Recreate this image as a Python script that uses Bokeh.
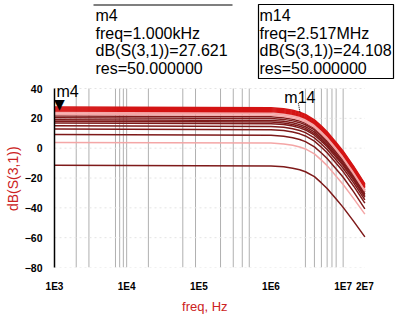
from bokeh.plotting import figure
from bokeh.models import Range1d, FixedTicker, Label, BoxAnnotation
from bokeh.embed import file_html
from bokeh.resources import INLINE

# ---------------- data ----------------
freq = [1e3, 1e6, 1.5e6, 2e6, 2.5e6, 3e6, 4e6, 5e6, 6e6, 8e6, 1e7, 1.4e7, 2e7]

curve_01 = [27.6, 27.1, 26.4, 25.4, 24.1, 22.6, 19.0, 14.8, 11.0, 3.8, -2.0, -12.2, -23.9]
curve_02 = [27.0, 26.5, 25.8, 24.8, 23.5, 22.0, 18.4, 14.2, 10.4, 3.2, -2.6, -12.8, -24.5]
curve_03 = [26.3, 25.8, 25.1, 24.1, 22.8, 21.3, 17.7, 13.5, 9.7, 2.5, -3.3, -13.5, -25.2]
curve_04 = [25.6, 25.1, 24.4, 23.4, 22.1, 20.6, 17.0, 12.8, 9.0, 1.8, -4.0, -14.2, -25.9]
curve_05 = [25.0, 24.5, 23.8, 22.8, 21.5, 20.0, 16.4, 12.2, 8.4, 1.2, -4.6, -14.8, -26.5]
curve_06 = [24.3, 23.8, 23.1, 22.1, 20.8, 19.3, 15.7, 11.5, 7.7, 0.5, -5.3, -15.5, -27.2]
curve_07 = [23.5, 23.0, 22.3, 21.3, 20.0, 18.5, 14.9, 10.7, 6.9, -0.3, -6.1, -16.3, -28.0]
curve_08 = [22.5, 22.0, 21.3, 20.3, 19.0, 17.5, 13.9, 9.7, 5.9, -1.3, -7.1, -17.3, -29.0]
curve_09 = [21.5, 21.0, 20.4, 19.4, 18.2, 16.8, 13.3, 9.2, 5.5, -1.5, -7.1, -16.9, -28.3]
curve_10 = [20.4, 19.9, 19.3, 18.3, 17.1, 15.7, 12.2, 8.1, 4.4, -2.6, -8.2, -18.0, -29.4]
curve_11 = [19.1, 18.6, 18.0, 17.0, 15.8, 14.4, 10.9, 6.8, 3.1, -3.9, -9.5, -19.3, -30.7]
curve_12 = [18.0, 17.5, 16.9, 15.9, 14.7, 13.3, 9.8, 5.7, 2.0, -5.0, -10.6, -20.4, -31.8]
curve_13 = [16.9, 16.4, 15.8, 14.8, 13.6, 12.2, 8.7, 4.6, 0.9, -6.1, -11.7, -21.5, -32.9]
curve_14 = [15.1, 14.6, 14.0, 13.0, 11.8, 10.4, 6.9, 2.8, -0.9, -7.9, -13.5, -23.3, -34.7]
curve_15 = [12.9, 12.4, 11.8, 10.8, 9.6, 8.2, 4.7, 0.6, -3.1, -10.1, -15.7, -25.5, -36.9]
curve_16 = [9.1, 8.6, 8.0, 7.0, 5.8, 4.4, 0.9, -3.2, -6.9, -13.9, -19.5, -29.3, -40.7]
curve_17 = [3.8, 3.4, 2.8, 1.9, 0.8, -0.5, -3.8, -8.0, -11.7, -18.8, -24.4, -33.8, -44.2]
curve_18 = [-11.5, -11.9, -12.5, -13.4, -14.5, -15.8, -19.1, -23.3, -27.0, -34.1, -39.7, -49.1, -59.5]

curves = [curve_01, curve_02, curve_03, curve_04, curve_05, curve_06, curve_07, curve_08,
          curve_09, curve_10, curve_11, curve_12, curve_13, curve_14, curve_15, curve_16,
          curve_17, curve_18]

x_ticks = [1e3, 1e4, 1e5, 1e6, 1e7, 2e7]
x_tick_labels = ["1E3", "1E4", "1E5", "1E6", "1E7", "2E7"]
y_ticks = [-80, -60, -40, -20, 0, 20, 40]
grid_freqs = [2e3, 3e3, 7e3, 8e3, 9e3, 1e4, 2e4, 6e4, 9e4, 2e5, 3e5, 4e5, 5e5,
              3e6, 4e6, 5e6, 6e6, 7e6, 8e6, 1e7]

x_title = "freq, Hz"
y_title = "dB(S(3,1))"

m4_freq, m4_db = 1e3, 27.621
m14_freq, m14_db = 2.517e6, 24.108
m4_lines = ["m4", "freq=1.000kHz", "dB(S(3,1))=27.621", "res=50.000000"]
m14_lines = ["m14", "freq=2.517MHz", "dB(S(3,1))=24.108", "res=50.000000"]

# ---------------- view / styles ----------------
# the frame is widened up and right so the marker read-outs (which sit above
# and right of the 1E3..2E7 / -80..40 data area) are inside the drawable frame
VIEW_X_END = 5.85e7
VIEW_Y_TOP = 99.0
NBSP = "\u00a0"

RED = "#d41414"
PINK = "#f4a6a6"
DARK = "#7e1a1a"
curve_colors = [RED, RED, RED, RED, RED, PINK, PINK, PINK,
                DARK, DARK, DARK, DARK, DARK, DARK, DARK, DARK, PINK, DARK]
LABEL_RED = "#cc2222"
FONT = "Liberation Sans"

p = figure(width=398, height=316, x_axis_type="log",
           x_range=Range1d(x_ticks[0], VIEW_X_END),
           y_range=Range1d(y_ticks[0], VIEW_Y_TOP),
           output_backend="svg", toolbar_location=None,
           min_border_left=54, min_border_right=0,
           min_border_top=0, min_border_bottom=49)
p.outline_line_color = None
p.background_fill_color = "white"
p.border_fill_color = "white"
p.xgrid.visible = False
p.ygrid.visible = False

# x axis
xa = p.xaxis[0]
xa.bounds = (x_ticks[0], x_ticks[-1])
xa.ticker = FixedTicker(ticks=x_ticks, minor_ticks=[])
xa.major_label_overrides = {t: s for t, s in zip(x_ticks, x_tick_labels)}
xa.axis_line_color = None
xa.major_tick_line_color = None
xa.minor_tick_line_color = None
xa.major_tick_out = 0
xa.major_tick_in = 0
xa.minor_tick_out = 0
xa.major_label_standoff = 13
xa.major_label_text_font = FONT
xa.major_label_text_font_size = "10px"
xa.major_label_text_font_style = "bold"
xa.major_label_text_color = "black"
# label is centred on the widened frame; trailing no-break spaces shift it
# back over the data area
xa.axis_label = x_title + NBSP * 12
xa.axis_label_text_font = FONT
xa.axis_label_text_font_size = "13px"
xa.axis_label_text_font_style = "normal"
xa.axis_label_text_color = LABEL_RED
xa.axis_label_standoff = 4

# y axis
ya = p.yaxis[0]
ya.bounds = (y_ticks[0], y_ticks[-1])
ya.ticker = FixedTicker(ticks=y_ticks, minor_ticks=[])
ya.axis_line_color = "black"
ya.axis_line_width = 1.5
ya.major_tick_line_color = None
ya.minor_tick_line_color = None
ya.major_tick_out = 0
ya.major_tick_in = 0
ya.minor_tick_out = 0
ya.major_label_standoff = 12
ya.major_label_text_font = FONT
ya.major_label_text_font_size = "10.5px"
ya.major_label_text_font_style = "bold"
ya.major_label_text_color = "black"
ya.axis_label = y_title + NBSP * 23
ya.axis_label_text_font = FONT
ya.axis_label_text_font_size = "14px"
ya.axis_label_text_font_style = "normal"
ya.axis_label_text_color = LABEL_RED
ya.axis_label_standoff = 1

# grid lines limited to the data area
ng = len(grid_freqs)
p.segment(x0=grid_freqs, y0=[y_ticks[0]] * ng, x1=grid_freqs, y1=[y_ticks[-1]] * ng,
          line_color="#b0b0b0", line_width=1)
ny = len(y_ticks)
p.segment(x0=[x_ticks[0]] * ny, y0=y_ticks, x1=[x_ticks[-1]] * ny, y1=y_ticks,
          line_color="#e4e4e4", line_width=1, line_dash="2 3")

# traces (bottom first so the red top ones sit over)
for c, col in reversed(list(zip(curves, curve_colors))):
    p.line(freq, c, line_color=col, line_width=1.5)

# marker m4
p.add_layout(Label(x=m4_freq, y=m4_db, text="\u25bc", text_align="center",
                   text_baseline="bottom", text_font="DejaVu Sans",
                   text_font_size="14px", text_color="black",
                   x_offset=5, y_offset=-5))
p.add_layout(Label(x=m4_freq, y=m4_db, text="m4", text_align="left",
                   text_baseline="alphabetic", text_font=FONT,
                   text_font_size="16px", text_color="black",
                   x_offset=2, y_offset=15))

# marker m14
p.segment(x0=[m14_freq], y0=[m14_db], x1=[m14_freq * 0.95], y1=[m14_db + 6.5],
          line_color="black", line_width=1, line_dash="1 1")
p.add_layout(Label(x=m14_freq, y=m14_db, text="m14", text_align="center",
                   text_baseline="alphabetic", text_font=FONT,
                   text_font_size="16px", text_color="black", y_offset=15))

# read-out boxes (screen units: from frame left, upward from frame bottom)
p.add_layout(BoxAnnotation(left=204, right=339, top=263, bottom=189,
                           left_units="screen", right_units="screen",
                           top_units="screen", bottom_units="screen",
                           fill_color="white", fill_alpha=1.0,
                           line_color="black", line_width=1.2, line_alpha=1.0))
p.add_layout(BoxAnnotation(left=39, right=178, top=263, bottom=262,
                           left_units="screen", right_units="screen",
                           top_units="screen", bottom_units="screen",
                           fill_color="black", fill_alpha=1.0, line_color=None))
line_y = [252, 234.5, 217, 199.5]
for txt, yy in zip(m4_lines, line_y):
    p.add_layout(Label(x=41, y=yy, x_units="screen", y_units="screen", text=txt,
                       text_font=FONT, text_font_size="16px", text_color="black",
                       text_baseline="middle", text_align="left"))
for txt, yy in zip(m14_lines, line_y):
    p.add_layout(Label(x=205, y=yy, x_units="screen", y_units="screen", text=txt,
                       text_font=FONT, text_font_size="16px", text_color="black",
                       text_baseline="middle", text_align="left"))

open("out.html", "w").write(file_html(p, INLINE))
